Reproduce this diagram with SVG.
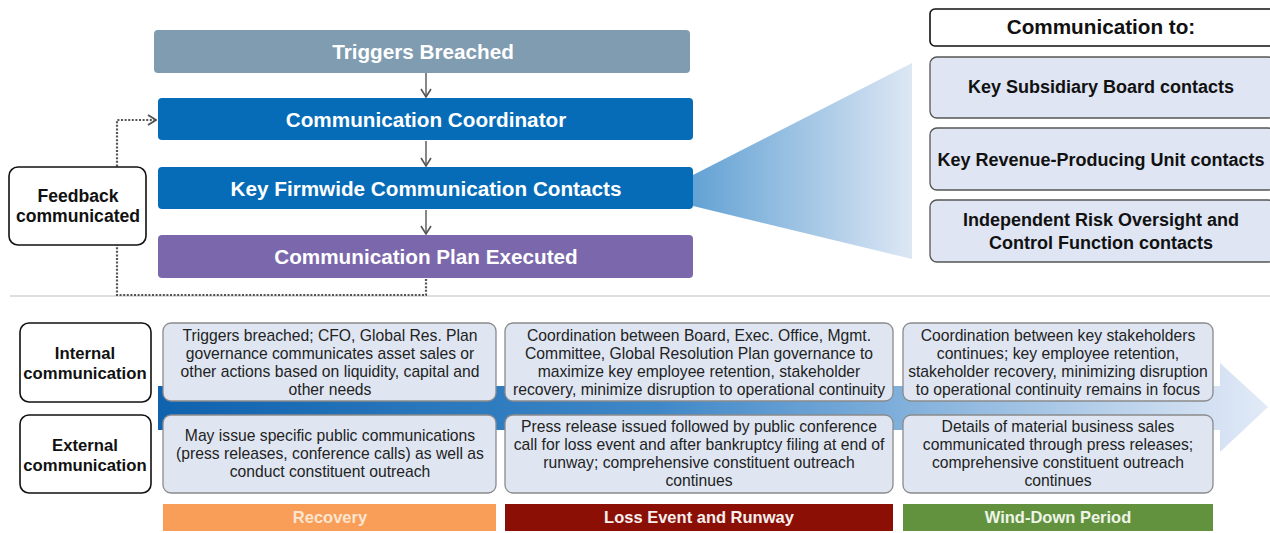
<svg xmlns="http://www.w3.org/2000/svg" width="1270" height="533" viewBox="0 0 1270 533">
<defs>
<style>
text{font-family:"Liberation Sans",Arial,sans-serif;text-anchor:middle}
.hd{font-size:20.7px;font-weight:bold;fill:#fff}
.rb{font-size:18px;font-weight:bold;fill:#111}
.lb{font-size:16.7px;font-weight:bold;fill:#111}
.fbt{font-size:17.6px;font-weight:bold;fill:#111}
.bt{font-size:15.7px;fill:#222}
.ph{font-size:16.5px;font-weight:bold}
.cbox{fill:#dfe6f2;stroke:#8a8a8a;stroke-width:1.3}
.rbox{fill:#dfe5f3;stroke:#555;stroke-width:1.3}
.wbox{fill:#fff;stroke:#111;stroke-width:1.6}
.flow{stroke:#555;stroke-width:1.4;fill:none}
.fb{stroke:#555;stroke-width:2.2;stroke-dasharray:2 1.6;fill:none}
</style>
<marker id="chev" viewBox="0 0 10 12" refX="9" refY="6" markerWidth="10" markerHeight="12" markerUnits="userSpaceOnUse" orient="auto">
<path d="M1,1 L9,6 L1,11" fill="none" stroke="#555" stroke-width="1.6"/>
</marker>
<marker id="chev2" viewBox="0 0 10 12" refX="9" refY="6" markerWidth="10" markerHeight="12" markerUnits="userSpaceOnUse" orient="auto">
<path d="M1,1 L9,6 L1,11" fill="none" stroke="#555" stroke-width="2"/>
</marker>
<linearGradient id="fan" x1="0" y1="0" x2="1" y2="0">
<stop offset="0" stop-color="#63a2d4"/>
<stop offset="1" stop-color="#dde7f4"/>
</linearGradient>
<linearGradient id="big" gradientUnits="userSpaceOnUse" x1="158" y1="0" x2="1268" y2="0">
<stop offset="0" stop-color="#0f62ae"/>
<stop offset="0.45" stop-color="#3f88c8"/>
<stop offset="1" stop-color="#e2eaf7"/>
</linearGradient>
</defs>

<rect width="1270" height="533" fill="#fff"/>

<!-- separator -->
<line x1="10" y1="296" x2="1270" y2="296" stroke="#d4d4d4" stroke-width="1.5"/>

<!-- fan -->
<polygon points="693,175 912,63 912,259 693,206" fill="url(#fan)"/>

<!-- big timeline arrow -->
<path d="M158,386 H1220 V363 L1268,407 L1220,452 V430 H158 Z" fill="url(#big)"/>

<g id="connectors">
<line class="flow" x1="426" y1="73" x2="426" y2="97" marker-end="url(#chev)"/>
<line class="flow" x1="426" y1="141" x2="426" y2="166" marker-end="url(#chev)"/>
<line class="flow" x1="426" y1="210" x2="426" y2="234" marker-end="url(#chev)"/>
<path class="fb" d="M426,279 V295 H117 V120 H156" marker-end="url(#chev2)"/>
</g>

<g id="n-triggers">
<rect x="154" y="30" width="536" height="43" rx="4" fill="#7f9cb1"/>
<text class="hd" x="423" y="59">Triggers Breached</text>
</g>
<g id="n-coordinator">
<rect x="158" y="98" width="535" height="42" rx="4" fill="#066cb8"/>
<text class="hd" x="426" y="127">Communication Coordinator</text>
</g>
<g id="n-firmwide">
<rect x="158" y="167" width="535" height="42" rx="4" fill="#066cb8"/>
<text class="hd" x="426" y="196">Key Firmwide Communication Contacts</text>
</g>
<g id="n-plan">
<rect x="158" y="235" width="535" height="43" rx="4" fill="#7b67ac"/>
<text class="hd" x="426" y="264">Communication Plan Executed</text>
</g>
<g id="n-feedback">
<rect class="wbox" x="9" y="167" width="137" height="78" rx="9"/>
<text class="fbt" x="78" y="202">Feedback</text>
<text class="fbt" x="78" y="222">communicated</text>
</g>

<g id="n-commto">
<rect class="wbox" x="930" y="9" width="345" height="37" rx="5"/>
<text class="rb" x="1101" y="34" style="font-size:20.7px">Communication to:</text>
</g>
<g id="n-subsidiary">
<rect class="rbox" x="930" y="57" width="345" height="61" rx="7"/>
<text class="rb" x="1101" y="93">Key Subsidiary Board contacts</text>
</g>
<g id="n-revenue">
<rect class="rbox" x="930" y="128" width="345" height="62" rx="7"/>
<text class="rb" x="1101" y="166">Key Revenue-Producing Unit contacts</text>
</g>
<g id="n-risk">
<rect class="rbox" x="930" y="200" width="345" height="62" rx="7"/>
<text class="rb" x="1101" y="226">Independent Risk Oversight and</text>
<text class="rb" x="1101" y="249">Control Function contacts</text>
</g>

<g id="n-internal">
<rect class="wbox" x="20" y="323" width="131" height="79" rx="9"/>
<text class="lb" x="85" y="359">Internal</text>
<text class="lb" x="85" y="379">communication</text>
</g>
<g id="n-external">
<rect class="wbox" x="20" y="415" width="131" height="78" rx="9"/>
<text class="lb" x="85" y="451">External</text>
<text class="lb" x="85" y="471">communication</text>
</g>

<g id="n-rec-int">
<rect class="cbox" x="163" y="323" width="333" height="78" rx="8"/>
<text class="bt" x="330" y="341">Triggers breached; CFO, Global Res. Plan</text>
<text class="bt" x="330" y="359">governance communicates asset sales or</text>
<text class="bt" x="330" y="377">other actions based on liquidity, capital and</text>
<text class="bt" x="330" y="395">other needs</text>
</g>
<g id="n-rec-ext">
<rect class="cbox" x="163" y="415" width="333" height="78" rx="8"/>
<text class="bt" x="330" y="441">May issue specific public communications</text>
<text class="bt" x="330" y="459">(press releases, conference calls) as well as</text>
<text class="bt" x="330" y="477">conduct constituent outreach</text>
</g>
<g id="n-loss-int">
<rect class="cbox" x="505" y="323" width="388" height="78" rx="8"/>
<text class="bt" x="699" y="341">Coordination between Board, Exec. Office, Mgmt.</text>
<text class="bt" x="699" y="359">Committee, Global Resolution Plan governance to</text>
<text class="bt" x="699" y="377">maximize key employee retention, stakeholder</text>
<text class="bt" x="699" y="395">recovery, minimize disruption to operational continuity</text>
</g>
<g id="n-loss-ext">
<rect class="cbox" x="505" y="415" width="388" height="78" rx="8"/>
<text class="bt" x="699" y="432">Press release issued followed by public conference</text>
<text class="bt" x="699" y="450">call for loss event and after bankruptcy filing at end of</text>
<text class="bt" x="699" y="468">runway; comprehensive constituent outreach</text>
<text class="bt" x="699" y="486">continues</text>
</g>
<g id="n-wind-int">
<rect class="cbox" x="903" y="323" width="310" height="78" rx="8"/>
<text class="bt" x="1058" y="341">Coordination between key stakeholders</text>
<text class="bt" x="1058" y="359">continues; key employee retention,</text>
<text class="bt" x="1058" y="377">stakeholder recovery, minimizing disruption</text>
<text class="bt" x="1058" y="395">to operational continuity remains in focus</text>
</g>
<g id="n-wind-ext">
<rect class="cbox" x="903" y="415" width="310" height="78" rx="8"/>
<text class="bt" x="1058" y="432">Details of material business sales</text>
<text class="bt" x="1058" y="450">communicated through press releases;</text>
<text class="bt" x="1058" y="468">comprehensive constituent outreach</text>
<text class="bt" x="1058" y="486">continues</text>
</g>

<g id="n-phase-recovery">
<rect x="163" y="504" width="333" height="27" fill="#f89e58"/>
<text class="ph" x="330" y="523" fill="#fde5d0">Recovery</text>
</g>
<g id="n-phase-loss">
<rect x="505" y="504" width="388" height="27" fill="#8b0f05"/>
<text class="ph" x="699" y="523" fill="#f7f0ee">Loss Event and Runway</text>
</g>
<g id="n-phase-wind">
<rect x="903" y="504" width="310" height="27" fill="#63923f"/>
<text class="ph" x="1058" y="523" fill="#eef4e8">Wind-Down Period</text>
</g>
</svg>
